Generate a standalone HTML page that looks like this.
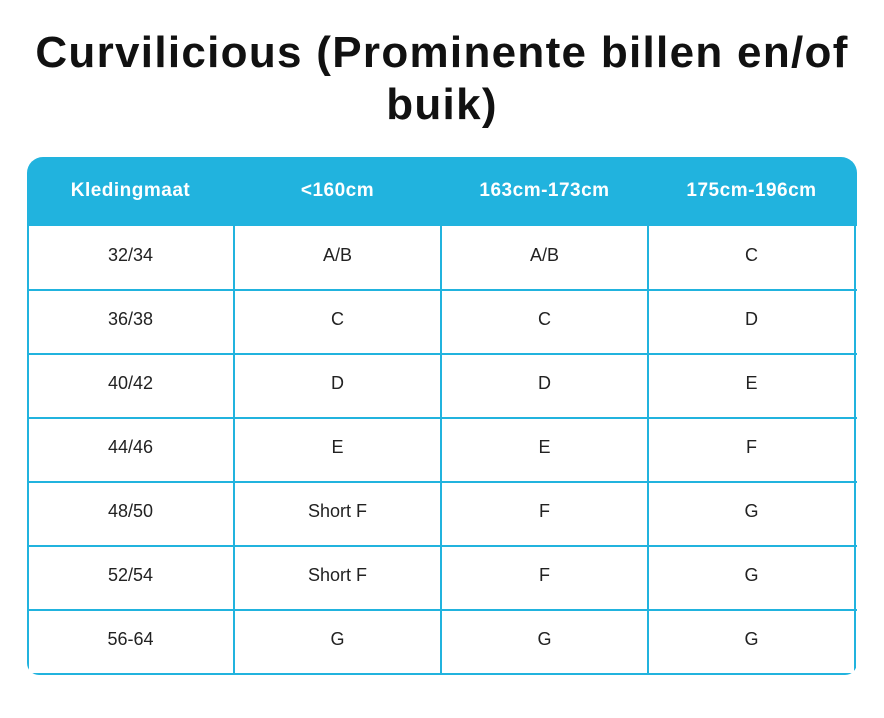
<!DOCTYPE html><html><head><style>
body{margin:0;width:884px;height:718px;background:#fff;position:relative;font-family:"Liberation Sans",sans-serif;overflow:hidden}
h1{position:absolute;left:0;top:27px;width:884px;margin:0;text-align:center;font-size:44px;line-height:52px;font-weight:900;color:#111;letter-spacing:1.3px}
.t{position:absolute;left:27px;top:157px;width:830px;height:518px;border-radius:16px 16px 12px 12px;overflow:hidden}
.hd{position:absolute;left:0;top:0;width:830px;height:69px;background:#21b3de}
.c{position:absolute;width:207px;text-align:center;font-size:18px;color:#222}
.h{color:#fff;font-weight:bold;font-size:19px;top:23px;letter-spacing:0.5px}
.v{position:absolute;top:69px;width:2px;height:449px;background:#21b3de}
.r{position:absolute;left:0;width:830px;height:2px;background:#21b3de}
</style></head><body>
<h1>Curvilicious (Prominente billen en/of<br>buik)</h1>
<div class="t">
<div class="hd"></div>
<div class="c h" style="left:0">Kledingmaat</div>
<div class="c h" style="left:207px">&lt;160cm</div>
<div class="c h" style="left:414px">163cm-173cm</div>
<div class="c h" style="left:621px">175cm-196cm</div>
<div class="v" style="left:0"></div><div class="v" style="left:206px"></div><div class="v" style="left:413px"></div><div class="v" style="left:620px"></div><div class="v" style="left:827px"></div>
<div class="r" style="top:132px"></div><div class="r" style="top:196px"></div><div class="r" style="top:260px"></div><div class="r" style="top:324px"></div><div class="r" style="top:388px"></div><div class="r" style="top:452px"></div><div class="r" style="top:516px"></div>
</div>
<div id="rows"></div>
<script>
var d=[["32/34","A/B","A/B","C"],["36/38","C","C","D"],["40/42","D","D","E"],["44/46","E","E","F"],["48/50","Short F","F","G"],["52/54","Short F","F","G"],["56-64","G","G","G"]];
var h="";d.forEach(function(r,i){r.forEach(function(t,j){h+='<div class="c" style="left:'+(27+j*207)+'px;top:'+(245+i*64)+'px">'+t+'</div>'})});
document.getElementById("rows").innerHTML=h;
</script>
</body></html>
